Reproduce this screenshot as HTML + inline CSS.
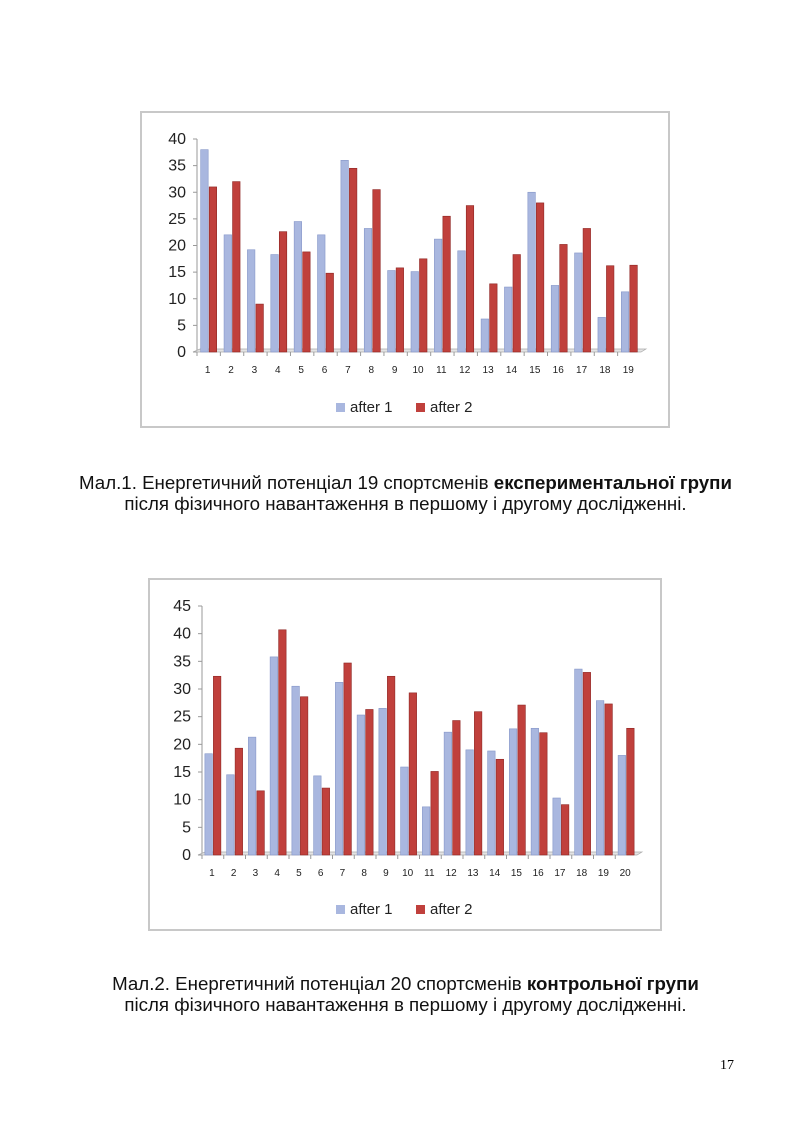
<!DOCTYPE html>
<html><head><meta charset="utf-8">
<style>
body{margin:0;background:#fff;width:793px;height:1123px;position:relative;overflow:hidden;font-family:"Liberation Sans",sans-serif}
.cap{position:absolute;left:0;width:811px;text-align:center;font-size:18.7px;line-height:21px;color:#111}
svg{position:absolute;left:0;top:0}
</style></head><body>
<svg id="s" width="793" height="1123"></svg>
<div class="cap" style="top:472px">Мал.1. Енергетичний потенціал 19 спортсменів <b>експериментальної групи</b><br>після фізичного навантаження в першому і другому дослідженні.</div>
<div class="cap" style="top:973px">Мал.2. Енергетичний потенціал 20 спортсменів <b>контрольної групи</b><br>після фізичного навантаження в першому і другому дослідженні.</div>
<div style="position:absolute;left:720px;top:1058px;font-family:'Liberation Serif',serif;font-size:14px">17</div>
<script>
const c1Cats=[1,2,3,4,5,6,7,8,9,10,11,12,13,14,15,16,17,18,19];
const c1After1=[38,22,19.2,18.3,24.5,22,36,23.2,15.3,15.1,21.2,19,6.2,12.2,30,12.5,18.6,6.5,11.3];
const c1After2=[31,32,9,22.6,18.8,14.8,34.5,30.5,15.8,17.5,25.5,27.5,12.8,18.3,28,20.2,23.2,16.2,16.3];
const c1Ticks=[0,5,10,15,20,25,30,35,40];
const c2Cats=[1,2,3,4,5,6,7,8,9,10,11,12,13,14,15,16,17,18,19,20];
const c2After1=[18.3,14.5,21.3,35.8,30.5,14.3,31.2,25.3,26.5,15.9,8.7,22.2,19,18.8,22.8,22.9,10.3,33.6,27.9,18];
const c2After2=[32.3,19.3,11.6,40.7,28.6,12.1,34.7,26.3,32.3,29.3,15.1,24.3,25.9,17.3,27.1,22.1,9.1,33,27.3,22.9];
const c2Ticks=[0,5,10,15,20,25,30,35,40,45];
const seriesNames=['after 1','after 2'];
const svg=document.getElementById('s');
const NS='http://www.w3.org/2000/svg';
function el(t,a,p){const e=document.createElementNS(NS,t);for(const k in a)e.setAttribute(k,a[k]);(p||svg).appendChild(e);return e;}
function chart(o,cats,a1,a2,ticks,id){
  const g=el('g',{});
  
  
  const fr=el('rect',{x:o.fx,y:o.fy,width:o.fw,height:o.fh,fill:'#fff',stroke:'#c8c8c8','stroke-width':2},g);
  
  
  const max=ticks[ticks.length-1];
  const y=v=>o.y0-(v/max)*(o.y0-o.yT);
  const slot=(o.xEnd-o.x0)/cats.length;
  const x=i=>o.x0+slot*i;
  el('line',{x1:o.x0,y1:o.yT,x2:o.x0,y2:o.y0,stroke:'#999'},g);
  el('path',{d:`M${o.x0-4} ${o.y0} L${o.x0+3} ${o.y0-3} L${o.xEnd+5} ${o.y0-3} L${o.xEnd} ${o.y0} Z`,fill:'#e4e4e4',stroke:'#aaa','stroke-width':0.7},g);
  ticks.forEach(t=>{
    el('line',{x1:o.x0-4,y1:y(t),x2:o.x0,y2:y(t),stroke:'#999'},g);
    const tx=el('text',{x:o.x0-11,y:y(t)+5,'text-anchor':'end','font-size':16,fill:'#222','font-family':'Liberation Sans, sans-serif'},g);
    tx.textContent=t;
    
    
  });
  cats.forEach((c,i)=>{
    el('line',{x1:x(i),y1:o.y0,x2:x(i),y2:o.y0+4,stroke:'#999'},g);
    const cx=x(i)+slot/2;
    const b1=el('rect',{x:cx-8,y:y(a1[i]),width:7.5,height:o.y0-y(a1[i]),fill:'#a9b7df',stroke:'#8596c8','stroke-width':0.6},g);
    
    
    const b2=el('rect',{x:cx+0.5,y:y(a2[i]),width:7.5,height:o.y0-y(a2[i]),fill:'#c0403c',stroke:'#8e2623','stroke-width':0.6},g);
    
    
    const tl=el('text',{x:cx-1,y:o.y0+21,'text-anchor':'middle','font-size':10,fill:'#222','font-family':'Liberation Sans, sans-serif'},g);
    tl.textContent=c;
    
    
  });
  const lx=o.lx, ly=o.ly;
  const l1=el('rect',{x:lx,y:ly-9,width:9,height:9,fill:'#a9b7df'},g);
  
  
  const t1=el('text',{x:lx+14,y:ly,'font-size':15,fill:'#222','font-family':'Liberation Sans, sans-serif'},g);
  t1.textContent=seriesNames[0];
  
  
  const l2=el('rect',{x:lx+80,y:ly-9,width:9,height:9,fill:'#c0403c'},g);
  
  
  const t2=el('text',{x:lx+94,y:ly,'font-size':15,fill:'#222','font-family':'Liberation Sans, sans-serif'},g);
  t2.textContent=seriesNames[1];
  
  
}
chart({fx:141,fy:112,fw:528,fh:315,x0:197,xEnd:641,y0:352,yT:139,lx:336,ly:412},c1Cats,c1After1,c1After2,c1Ticks,'chart-experimental-group');
chart({fx:149,fy:579,fw:512,fh:351,x0:202,xEnd:637,y0:855,yT:606,lx:336,ly:914},c2Cats,c2After1,c2After2,c2Ticks,'chart-control-group');
</script>
</body></html>
